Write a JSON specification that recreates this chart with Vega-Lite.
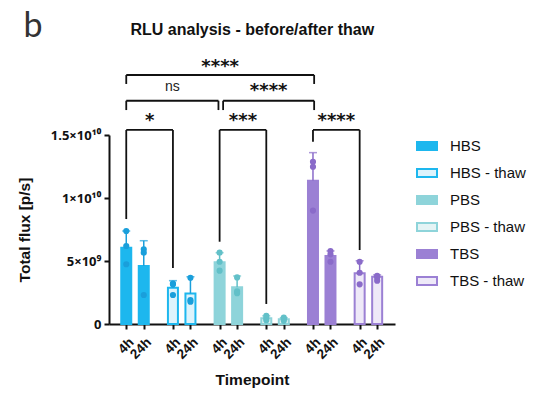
{
  "$schema": "https://vega.github.io/schema/vega-lite/v6.json",
  "width": 286,
  "height": 189,
  "autosize": {"type": "none"},
  "padding": {"left": 109, "top": 135, "right": 150, "bottom": 71},
  "background": "white",
  "datasets": {
    "bars": [
      {"series": "HBS", "time": "4h", "pos": 0, "mean": 6.06e9, "top": 7.38e9},
      {"series": "HBS", "time": "24h", "pos": 3, "mean": 4.6e9, "top": 6.61e9},
      {"series": "HBS - thaw", "time": "4h", "pos": 8, "mean": 2.88e9, "top": 3.44e9},
      {"series": "HBS - thaw", "time": "24h", "pos": 11, "mean": 2.43e9, "top": 3.75e9},
      {"series": "PBS", "time": "4h", "pos": 16, "mean": 4.9e9, "top": 5.66e9},
      {"series": "PBS", "time": "24h", "pos": 19, "mean": 2.91e9, "top": 3.81e9},
      {"series": "PBS - thaw", "time": "4h", "pos": 24, "mean": 0.45e9, "top": 0.65e9},
      {"series": "PBS - thaw", "time": "24h", "pos": 27, "mean": 0.37e9, "top": 0.5e9},
      {"series": "TBS", "time": "4h", "pos": 32, "mean": 11.37e9, "top": 13.6e9},
      {"series": "TBS", "time": "24h", "pos": 35, "mean": 5.4e9, "top": 5.8e9},
      {"series": "TBS - thaw", "time": "4h", "pos": 40, "mean": 4.02e9, "top": 5.02e9},
      {"series": "TBS - thaw", "time": "24h", "pos": 43, "mean": 3.75e9, "top": 3.9e9}
    ],
    "dots": [
      {"series": "HBS", "pos": 0, "value": 7.38e9},
      {"series": "HBS", "pos": 0, "value": 6.19e9},
      {"series": "HBS", "pos": 0, "value": 4.74e9},
      {"series": "HBS", "pos": 3, "value": 5.93e9},
      {"series": "HBS", "pos": 3, "value": 5.66e9},
      {"series": "HBS", "pos": 3, "value": 2.3e9},
      {"series": "HBS - thaw", "pos": 8, "value": 3.2e9},
      {"series": "HBS - thaw", "pos": 8, "value": 3.15e9},
      {"series": "HBS - thaw", "pos": 8, "value": 2.3e9},
      {"series": "HBS - thaw", "pos": 11, "value": 3.67e9},
      {"series": "HBS - thaw", "pos": 11, "value": 1.9e9},
      {"series": "HBS - thaw", "pos": 11, "value": 1.77e9},
      {"series": "PBS", "pos": 16, "value": 5.66e9},
      {"series": "PBS", "pos": 16, "value": 4.94e9},
      {"series": "PBS", "pos": 16, "value": 4.23e9},
      {"series": "PBS", "pos": 19, "value": 3.7e9},
      {"series": "PBS", "pos": 19, "value": 2.6e9},
      {"series": "PBS", "pos": 19, "value": 2.45e9},
      {"series": "PBS - thaw", "pos": 24, "value": 0.65e9},
      {"series": "PBS - thaw", "pos": 24, "value": 0.45e9},
      {"series": "PBS - thaw", "pos": 24, "value": 0.3e9},
      {"series": "PBS - thaw", "pos": 27, "value": 0.5e9},
      {"series": "PBS - thaw", "pos": 27, "value": 0.4e9},
      {"series": "PBS - thaw", "pos": 27, "value": 0.25e9},
      {"series": "TBS", "pos": 32, "value": 12.88e9},
      {"series": "TBS", "pos": 32, "value": 12.48e9},
      {"series": "TBS", "pos": 32, "value": 9.0e9},
      {"series": "TBS", "pos": 35, "value": 5.79e9},
      {"series": "TBS", "pos": 35, "value": 5.53e9},
      {"series": "TBS", "pos": 35, "value": 4.94e9},
      {"series": "TBS - thaw", "pos": 40, "value": 4.94e9},
      {"series": "TBS - thaw", "pos": 40, "value": 4.07e9},
      {"series": "TBS - thaw", "pos": 40, "value": 3.15e9},
      {"series": "TBS - thaw", "pos": 43, "value": 3.83e9},
      {"series": "TBS - thaw", "pos": 43, "value": 3.7e9},
      {"series": "TBS - thaw", "pos": 43, "value": 3.44e9}
    ],
    "brackets": [
      {"x1": 0, "x2": 32.2, "xm": 16.1, "yh": 19.76e9, "yl": 19.05e9, "yr": 19.05e9, "label": "****", "yt": 20.74e9},
      {"x1": 0, "x2": 15.8, "xm": 7.9, "yh": 17.72e9, "yl": 16.98e9, "yr": 16.98e9, "label": "ns", "yt": 18.8e9},
      {"x1": 16.6, "x2": 32.2, "xm": 24.4, "yh": 17.72e9, "yl": 16.98e9, "yr": 16.98e9, "label": "****", "yt": 18.8e9},
      {"x1": 0, "x2": 8, "xm": 4, "yh": 15.4e9, "yl": 8.33e9, "yr": 4.44e9, "label": "*", "yt": 16.4e9},
      {"x1": 16, "x2": 24, "xm": 20, "yh": 15.4e9, "yl": 6.53e9, "yr": 1.59e9, "label": "***", "yt": 16.4e9},
      {"x1": 32, "x2": 40, "xm": 36, "yh": 15.4e9, "yl": 14.47e9, "yr": 5.87e9, "label": "****", "yt": 16.4e9}
    ],
    "panel": [
      {"label": "b", "x": -16, "y": 2.278e10}
    ],
    "heading": [
      {"label": "RLU analysis - before/after thaw", "x": 21.6, "y": 2.333e10}
    ]
  },
  "layer": [
    {
      "data": {"name": "bars"},
      "mark": {"type": "bar", "size": 10, "strokeWidth": 2, "orient": "vertical"},
      "encoding": {
        "x": {"field": "pos", "type": "quantitative",
          "scale": {"domain": [-2.1, 45.2], "nice": false, "zero": false},
          "axis": {"title": "Timepoint", "values": [0, 3, 8, 11, 16, 19, 24, 27, 32, 35, 40, 43], "tickCount": 30,
            "labelExpr": "datum.value % 8 == 0 ? '4h' : '24h'", "labelAngle": -45, "labelAlign": "right", "labelBaseline": "top",
            "labelOverlap": false, "labelFontSize": 13.5, "labelPadding": 6, "titlePadding": 12, "titleFontSize": 15.5}},
        "y": {"field": "mean", "type": "quantitative", "stack": null,
          "scale": {"domain": [0, 15000000000], "nice": false},
          "axis": {"title": "Total flux [p/s]", "values": [0, 5000000000, 10000000000, 15000000000],
            "labelExpr": "datum.value == 0 ? '0' : datum.value == 5000000000 ? '5×10⁹' : datum.value == 10000000000 ? '1×10¹⁰' : '1.5×10¹⁰'",
            "labelFont": "Noto Sans", "labelFontSize": 13, "labelPadding": 3, "titlePadding": 18, "titleFontSize": 15.5}},
        "fill": {"field": "series", "type": "nominal",
          "scale": {"domain": ["HBS", "HBS - thaw", "PBS", "PBS - thaw", "TBS", "TBS - thaw"],
            "range": ["#1DB7EE", "#DDF3FC", "#8ED4DA", "#E4F4F5", "#9B80D4", "#EEE9F8"]},
          "legend": {"title": null}},
        "stroke": {"field": "series", "type": "nominal",
          "scale": {"domain": ["HBS", "HBS - thaw", "PBS", "PBS - thaw", "TBS", "TBS - thaw"],
            "range": ["#1DB7EE", "#1DB7EE", "#8ED4DA", "#8ED4DA", "#9B80D4", "#9B80D4"]},
          "legend": {"title": null}}
      }
    },
    {
      "data": {"name": "bars"},
      "mark": {"type": "rule", "strokeWidth": 1.5},
      "encoding": {
        "x": {"field": "pos", "type": "quantitative"},
        "y": {"field": "mean", "type": "quantitative"},
        "y2": {"field": "top"},
        "color": {"field": "series", "type": "nominal",
          "scale": {"domain": ["HBS", "HBS - thaw", "PBS", "PBS - thaw", "TBS", "TBS - thaw"],
            "range": ["#1A9FDB", "#1A9FDB", "#62C0C8", "#62C0C8", "#8A6BC9", "#8A6BC9"]},
          "legend": null}
      }
    },
    {
      "data": {"name": "bars"},
      "mark": {"type": "tick", "orient": "horizontal", "size": 8, "thickness": 1.5},
      "encoding": {
        "x": {"field": "pos", "type": "quantitative"},
        "y": {"field": "top", "type": "quantitative"},
        "color": {"field": "series", "type": "nominal", "legend": null}
      }
    },
    {
      "data": {"name": "dots"},
      "mark": {"type": "point", "filled": true, "size": 38, "opacity": 1},
      "encoding": {
        "x": {"field": "pos", "type": "quantitative"},
        "y": {"field": "value", "type": "quantitative"},
        "color": {"field": "series", "type": "nominal", "legend": null}
      }
    },
    {
      "data": {"name": "brackets"},
      "mark": {"type": "rule", "strokeWidth": 1.8, "color": "#111"},
      "encoding": {
        "x": {"field": "x1", "type": "quantitative"},
        "x2": {"field": "x2"},
        "y": {"field": "yh", "type": "quantitative"}
      }
    },
    {
      "data": {"name": "brackets"},
      "mark": {"type": "rule", "strokeWidth": 1.8, "color": "#111"},
      "encoding": {
        "x": {"field": "x1", "type": "quantitative"},
        "y": {"field": "yh", "type": "quantitative"},
        "y2": {"field": "yl"}
      }
    },
    {
      "data": {"name": "brackets"},
      "mark": {"type": "rule", "strokeWidth": 1.8, "color": "#111"},
      "encoding": {
        "x": {"field": "x2", "type": "quantitative"},
        "y": {"field": "yh", "type": "quantitative"},
        "y2": {"field": "yr"}
      }
    },
    {
      "data": {"name": "brackets"},
      "transform": [{"filter": "datum.label != 'ns'"}],
      "mark": {"type": "text", "font": "DejaVu Sans", "fontWeight": "bold", "fontSize": 18, "color": "#111", "baseline": "middle", "dy": 4},
      "encoding": {
        "x": {"field": "xm", "type": "quantitative"},
        "y": {"field": "yt", "type": "quantitative"},
        "text": {"field": "label"}
      }
    },
    {
      "data": {"name": "brackets"},
      "transform": [{"filter": "datum.label == 'ns'"}],
      "mark": {"type": "text", "font": "Liberation Sans", "fontSize": 14, "color": "#222", "baseline": "middle"},
      "encoding": {
        "x": {"field": "xm", "type": "quantitative"},
        "y": {"field": "yt", "type": "quantitative"},
        "text": {"field": "label"}
      }
    },
    {
      "data": {"name": "panel"},
      "mark": {"type": "text", "font": "Lato", "fontSize": 34, "color": "#333", "baseline": "alphabetic", "align": "center"},
      "encoding": {
        "x": {"field": "x", "type": "quantitative"},
        "y": {"field": "y", "type": "quantitative"},
        "text": {"field": "label"}
      }
    },
    {
      "data": {"name": "heading"},
      "mark": {"type": "text", "font": "Liberation Sans", "fontWeight": "bold", "fontSize": 16, "color": "#111", "baseline": "middle", "align": "center"},
      "encoding": {
        "x": {"field": "x", "type": "quantitative"},
        "y": {"field": "y", "type": "quantitative"},
        "text": {"field": "label"}
      }
    }
  ],
  "config": {
    "view": {"stroke": null},
    "axis": {"grid": false, "domainColor": "#111", "domainWidth": 2, "tickColor": "#111", "tickWidth": 2, "tickSize": 5,
      "labelFont": "Liberation Sans", "labelFontWeight": "bold", "labelFontSize": 11, "labelColor": "#111",
      "titleFont": "Liberation Sans", "titleFontWeight": "bold", "titleFontSize": 14, "titleColor": "#111"},
    "legend": {"labelFont": "Liberation Sans", "labelFontSize": 15, "labelColor": "#111", "symbolType": "M-1,-0.4H1V0.4H-1Z",
      "symbolSize": 400, "symbolStrokeWidth": 2, "rowPadding": 8, "offset": 21, "padding": 0, "labelOffset": 12}
  }
}
